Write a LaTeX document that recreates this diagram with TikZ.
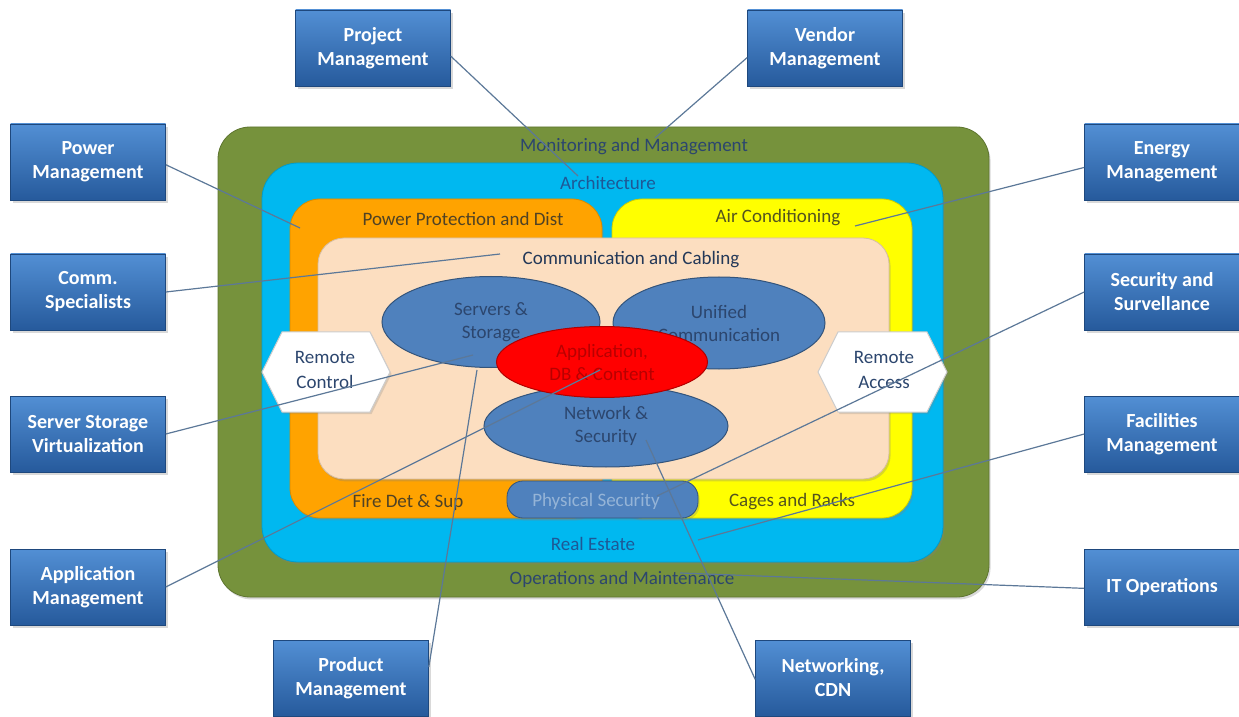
\documentclass[tikz,border=0pt]{standalone}
\usepackage{fontspec}
\setmainfont{Carlito}
\usetikzlibrary{shapes.geometric, shadows}
\definecolor{boxtop}{RGB}{82,143,212}
\definecolor{boxbot}{RGB}{38,90,156}
\definecolor{olivegreen}{RGB}{118,146,60}
\definecolor{skyblue}{RGB}{0,184,240}
\definecolor{layorange}{RGB}{255,163,0}
\definecolor{layyellow}{RGB}{255,255,0}
\definecolor{peach}{RGB}{252,222,192}
\definecolor{steelblue}{RGB}{79,129,189}
\definecolor{navytext}{RGB}{44,70,110}
\definecolor{browntext}{RGB}{80,66,36}
\definecolor{olivetext}{RGB}{84,84,30}
\definecolor{archtext}{RGB}{30,88,150}
\definecolor{linkline}{RGB}{92,120,152}

\begin{document}
\begin{tikzpicture}[x=0.5pt,y=-0.5pt]
			\tikzstyle{box} = [rectangle,top color=boxtop,bottom color=boxbot,draw=boxbot!80!black,line width=0.3pt,minimum width=77.5pt,minimum height=38pt,inner sep=1pt,text=white,align=center,font=\fontsize{10}{12}\selectfont\bfseries,drop shadow={opacity=0.3,shadow xshift=1pt,shadow yshift=-1.5pt}]
			\tikzstyle{layer} = [rounded corners=16pt,drop shadow={opacity=0.3,shadow xshift=0.8pt,shadow yshift=-1.2pt}]
			\tikzstyle{lbl} = [inner sep=0pt,font=\fontsize{9.5}{12}\selectfont]
			\tikzstyle{blob} = [ellipse,fill=steelblue,draw=steelblue!65!black,line width=0.5pt,inner sep=0pt,align=center,text=navytext,font=\fontsize{9.5}{11.5}\selectfont]
			\tikzstyle{hexa} = [fill=white,draw=black!20,line width=0.5pt,drop shadow={opacity=0.25,shadow xshift=0.8pt,shadow yshift=-1pt}]
			\tikzstyle{edge} = [-,draw=linkline,line width=0.6pt]
			\useasboundingbox (0,0) rectangle (1239,717);
			% nested layers
			\filldraw[layer,fill=olivegreen,draw=olivegreen!80!black] (218,127) rectangle (989,597);
			\filldraw[layer,fill=skyblue,draw=skyblue!85!black,rounded corners=18pt] (262,163) rectangle (943,562);
			\filldraw[layer,fill=layorange,draw=layorange!85!black,rounded corners=15pt] (290,199) rectangle (602,518);
			\filldraw[layer,fill=layyellow,draw=layyellow!80!black,rounded corners=15pt] (612,199) rectangle (912,518);
			\filldraw[layer,fill=peach,draw=peach!85!black,rounded corners=13pt] (318,238) rectangle (889,479);
			\filldraw[layer,fill=steelblue,draw=steelblue!65!black,rounded corners=8pt] (507,481) rectangle (698,518);
			% layer titles
			\node[lbl,text=navytext] (mon) at (634,147) {Monitoring and Management};
			\node[lbl,text=archtext] (arch) at (608,183) {Architecture};
			\node[lbl,text=browntext] (ppd) at (463,219) {Power Protection and Dist};
			\node[lbl,text=olivetext] (airc) at (778,218) {Air Conditioning};
			\node[lbl,text=navytext!80!black] (cab) at (631,260) {Communication and Cabling};
			\node[lbl,text=browntext] (fire) at (408,502) {Fire Det \& Sup};
			\node[lbl,text=steelblue!60!white] (phys) at (596,501) {Physical Security};
			\node[lbl,text=olivetext] (cage) at (792,502) {Cages and Racks};
			\node[lbl,text=archtext] (real) at (593,544) {Real Estate};
			\node[lbl,text=navytext] (ops) at (622,579) {Operations and Maintenance};
			% core
			\node[blob,minimum width=109pt,minimum height=45.5pt] (srv) at (491,322) {Servers \&\\Storage};
			\node[blob,minimum width=106pt,minimum height=46pt] (ucom) at (719,323) {Unified\\Communication};
			\node[blob,minimum width=122pt,minimum height=41pt] (nets) at (606,426) {Network \&\\Security};
			\node[blob,fill=red,draw=red!70!black,text=red!72!black,minimum width=105.5pt,minimum height=35.5pt] (app) at (602,362) {Application,\\DB \& Content};
			% remote hexagons
			\filldraw[hexa] (262,372) -- (282,332) -- (370,332) -- (390,372) -- (370,412) -- (282,412) -- cycle;
			\filldraw[hexa] (818,372) -- (838,332) -- (927,332) -- (947,372) -- (927,412) -- (838,412) -- cycle;
			\node[lbl,align=center,text=navytext,font=\fontsize{9.5}{12.5}\selectfont] (rctl) at (325,370) {Remote\\Control};
			\node[lbl,align=center,text=navytext,font=\fontsize{9.5}{12.5}\selectfont] (racc) at (884,370) {Remote\\Access};
			% outer boxes
			\node[box] (proj) at (373,48) {Project\\Management};
			\node[box] (vend) at (825,48) {Vendor\\Management};
			\node[box] (power) at (88,162) {Power\\Management};
			\node[box] (comm) at (88,292) {Comm.\\Specialists};
			\node[box] (ssv) at (88,434) {Server Storage\\Virtualization};
			\node[box] (appm) at (88,587) {Application\\Management};
			\node[box] (prod) at (351,678) {Product\\Management};
			\node[box] (netw) at (833,678) {Networking,\\CDN};
			\node[box] (energy) at (1162,162) {Energy\\Management};
			\node[box] (secs) at (1162,292) {Security and\\Survellance};
			\node[box] (fac) at (1162,434) {Facilities\\Management};
			\node[box] (itops) at (1162,587) {IT Operations};
			% line ends
			\coordinate (p1) at (578,176);
			\coordinate (p2) at (655,138);
			\coordinate (p3) at (300,228);
			\coordinate (p4) at (500,254);
			\coordinate (p5) at (473,355);
			\coordinate (p6) at (600,370);
			\coordinate (p7) at (477,370);
			\coordinate (p8) at (646,440);
			\coordinate (p9) at (855,226);
			\coordinate (p10) at (657,496);
			\coordinate (p11) at (698,540);
			\coordinate (p12) at (680,573);
			\draw[edge] (proj.-6)--(p1);
			\draw[edge] (vend.187)--(p2);
			\draw[edge] (power.-2)--(p3);
			\draw[edge] (comm.east)--(p4);
			\draw[edge] (ssv.east)--(p5);
			\draw[edge] (appm.east)--(p6);
			\draw[edge] (prod.8)--(p7);
			\draw[edge] (netw.181)--(p8);
			\draw[edge] (energy.184)--(p9);
			\draw[edge] (secs.west)--(p10);
			\draw[edge] (fac.west)--(p11);
			\draw[edge] (itops.181)--(p12);
\end{tikzpicture}
\end{document}
